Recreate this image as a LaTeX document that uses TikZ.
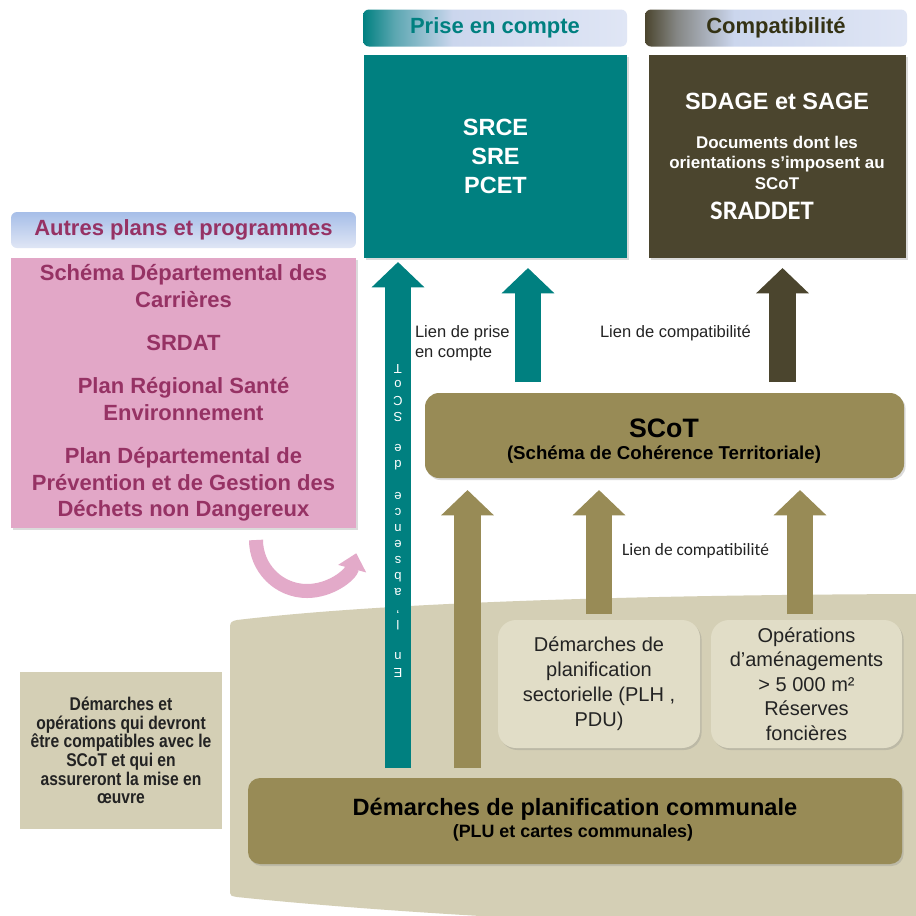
\documentclass[tikz,border=0pt]{standalone}
\usepackage{fontspec}
\setmainfont{Liberation Sans}
\newfontfamily\carlito{Carlito}
\newfontfamily\narrowsans{Liberation Sans}[FakeStretch=0.85]
\usetikzlibrary{arrows.meta,shadows}

\definecolor{tealc}{RGB}{0,128,128}
\definecolor{olivedark}{RGB}{75,69,46}
\definecolor{olivetan}{RGB}{152,139,86}
\definecolor{sand}{RGB}{212,207,181}
\definecolor{sandlight}{RGB}{225,221,199}
\definecolor{pinkbox}{RGB}{226,167,199}
\definecolor{pinkarrow}{RGB}{227,170,201}
\definecolor{plum}{RGB}{150,50,100}
\definecolor{lav}{RGB}{203,214,237}
\definecolor{lavlight}{RGB}{224,230,245}
\definecolor{headblue}{RGB}{166,190,232}
\definecolor{compattxt}{RGB}{52,50,20}
\definecolor{txt}{RGB}{35,35,35}

% header gradients (path spans 25bp..75bp of the shading)
\pgfdeclarehorizontalshading{prisesh}{100bp}{color(0bp)=(tealc); color(25bp)=(tealc); color(31bp)=(tealc!55!lav); color(42bp)=(lav); color(75bp)=(lavlight); color(100bp)=(lavlight)}
\pgfdeclarehorizontalshading{compatsh}{100bp}{color(0bp)=(olivedark); color(25bp)=(olivedark); color(31bp)=(olivedark!55!lav); color(42bp)=(lav); color(75bp)=(lavlight); color(100bp)=(lavlight)}

\begin{document}
\begin{tikzpicture}[x=0.75pt,y=-0.75pt,
  every node/.style={inner sep=0pt,outer sep=0pt},
  sz/.style 2 args={minimum width=#1*0.75pt,minimum height=#2*0.75pt},
  shadowed/.style={drop shadow={opacity=0.28,shadow xshift=1.2pt,shadow yshift=-1.5pt}},
  headerbox/.style={rounded corners=4.5pt,font=\bfseries\fontsize{16.5}{20}\selectfont},
  panel/.style={shadowed,align=center},
  bigarrow/.style={line width=20pt,-{Triangle[width=38.5pt,length=19pt]}},
  linklabel/.style={text=txt,align=left,font=\fontsize{12.4}{15}\selectfont},
  vchar/.style={text=white,rotate=180,anchor=base,font=\fontsize{9.8}{11}\selectfont}]

\path[use as bounding box] (0,0) rectangle (916,915);
\clip (0,0) rectangle (916,915);
\fill[white] (0,0) rectangle (916,915);

% ground area of the local plans
\fill[sand] (230,893) -- (230,627) .. controls (230,622) and (232,621) .. (237,620)
  .. controls (380,603) and (620,595) .. (916,594) -- (916,935)
  .. controls (620,925) and (400,914) .. (237,897)
  .. controls (232,896) and (230,896) .. (230,893) -- cycle;

% headers
\node[headerbox,sz={264}{37},shade,shading=prisesh,text=tealc] (hprise) at (495,28) {Prise en compte};
\node[headerbox,sz={262}{37},shade,shading=compatsh,text=compattxt] (hcompat) at (776,28) {Compatibilité};
\node[headerbox,sz={345}{36},top color=headblue,bottom color=lavlight,text=plum] (hautres) at (183.5,230) {Autres plans et programmes};

% upper documents
\node[panel,sz={263}{203},fill=tealc,text=white,font=\bfseries\fontsize{17.6}{21.75}\selectfont] (prise) at (495.5,156.5) {SRCE\\SRE\\PCET};
\node[panel,sz={257}{203},fill=olivedark] (sdage) at (777.5,156.5) {};
\node[text=white,font=\bfseries\fontsize{17.6}{21}\selectfont] (sdagetitle) at (777,101) {SDAGE et SAGE};
\node[text=white,align=center,font=\bfseries\fontsize{12.7}{15.4}\selectfont] (sdagedocs) at (777,162.5) {Documents dont les\\orientations s’imposent au\\SCoT};
\node[text=white,font=\carlito\bfseries\fontsize{20}{24}\selectfont] (sraddet) at (762,211) {SRADDET};

% other plans
\node[panel,sz={345}{270},fill=pinkbox,text=plum,font=\bfseries\fontsize{16.5}{20}\selectfont] (autres) at (183.5,393)
  {Schéma Départemental des\\Carrières\\[12.3pt]SRDAT\\[12.3pt]Plan Régional Santé\\Environnement\\[12.3pt]Plan Départemental de\\Prévention et de Gestion des\\Déchets non Dangereux};

% SCoT
\node[panel,sz={479}{85},rounded corners=10.5pt,fill=olivetan] (scot) at (664.5,435.5) {};
\node[text=black,font=\bfseries\fontsize{20}{24}\selectfont] (scottitle) at (664,428) {SCoT};
\node[text=black,font=\bfseries\fontsize{14}{17}\selectfont] (scotsub) at (664,455) {(Schéma de Cohérence Territoriale)};

% local plans
\node[panel,sz={202}{128},rounded corners=13.5pt,fill=sandlight,text=txt,font=\fontsize{15}{18.75}\selectfont] (sect) at (599,684)
  {Démarches de\\planification\\sectorielle (PLH ,\\PDU)};
\node[panel,sz={191}{128},rounded corners=13.5pt,fill=sandlight,text=txt,font=\fontsize{15}{18.4}\selectfont] (ops) at (806.5,684)
  {Opérations\\d’aménagements\\> 5 000 m²\\Réserves\\foncières};
\node[panel,sz={654}{86},rounded corners=9pt,fill=olivetan] (comm) at (575,821) {};
\node[text=black,font=\bfseries\fontsize{17.7}{21}\selectfont] (commtitle) at (575,809) {Démarches de planification communale};
\node[text=black,font=\bfseries\fontsize{13.4}{16}\selectfont] (commsub) at (573,833) {(PLU et cartes communales)};

\node[sz={202}{157},fill=sand,align=center,text=txt,font=\narrowsans\bfseries\fontsize{13.8}{14}\selectfont] (note) at (121,750.5)
  {Démarches et\\opérations qui devront\\être compatibles avec le\\SCoT et qui en\\assureront la mise en\\œuvre};

% arrow end points
\coordinate (tallfoot) at (398,768);   \coordinate (talltip) at (398,262);
\coordinate (pcfoot) at (528,382);     \coordinate (pctip) at (528,268);
\coordinate (cpfoot) at (782.5,382);   \coordinate (cptip) at (782.5,268);
\coordinate (commfoot) at (467.5,768); \coordinate (commtip) at (467.5,490);
\coordinate (sectfoot) at (599,614);   \coordinate (secttip) at (599,490);
\coordinate (opsfoot) at (800,614);    \coordinate (opstip) at (800,490);
\coordinate (curlstart) at (256,540);

% links
\draw[bigarrow,tealc] (tallfoot) -- (talltip);
\draw[bigarrow,tealc] (pcfoot) -- (pctip);
\draw[bigarrow,olivedark] (cpfoot) -- (cptip);
\draw[bigarrow,olivetan] (commfoot) -- (commtip);
\draw[bigarrow,olivetan] (sectfoot) -- (secttip);
\draw[bigarrow,olivetan] (opsfoot) -- (opstip);
\draw[pinkarrow,line width=10.5pt,-{Triangle[width=21pt,length=12pt]}] (curlstart) arc[start angle=180,end angle=15,radius=51];

% upside-down stacked caption of the long arrow
\foreach \ch/\k in {T/0,o/1,C/2,S/3,e/5,d/6,e/8,c/9,n/10,e/11,s/12,b/13,a/14,’/15,l/16,n/18,E/19}
  \node[vchar] (vc\k) at (398,364+16.05*\k) {\ch};

% link labels
\node[linklabel,anchor=west] (lienprise) at (415,343) {Lien de prise\\en compte};
\node[linklabel,anchor=west] (liencompat) at (600,333) {Lien de compatibilité};
\node[text=txt,anchor=west,font=\carlito\fontsize{13}{15}\selectfont] (lienlocal) at (622,551) {Lien de compatibilité};

\end{tikzpicture}
\end{document}
